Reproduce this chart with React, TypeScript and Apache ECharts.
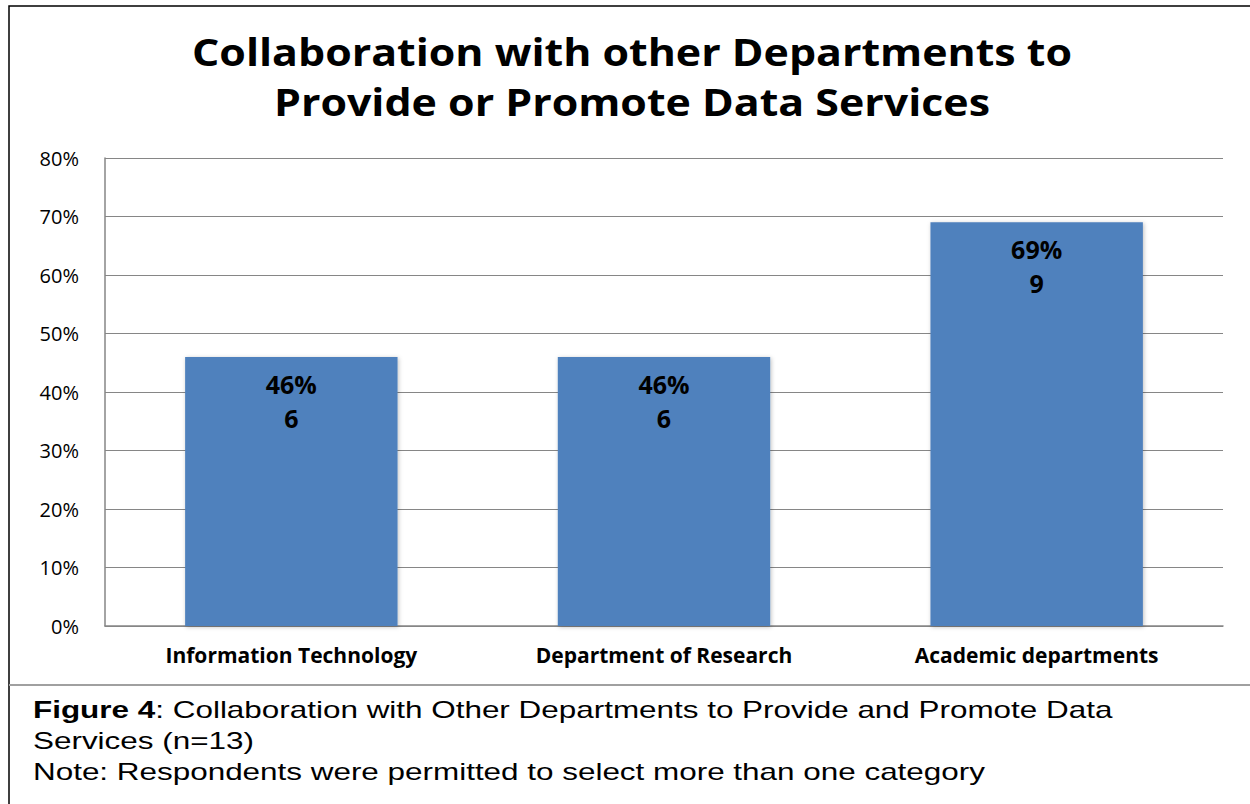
import React, { useEffect, useRef } from "react";
import * as echarts from "echarts";

const categories = ["Information Technology", "Department of Research", "Academic departments"];
const percents = [46, 46, 69];
const counts = [6, 6, 9];
const yTicks = { min: 0, max: 80, interval: 10 };
const titleLines = ["Collaboration with other Departments to", "Provide or Promote Data Services"];

export default function App() {
  const ref = useRef<HTMLDivElement>(null);
  useEffect(() => {
    const chart = echarts.init(ref.current!, null, { renderer: "svg" });
    chart.setOption({
      animation: false,
      backgroundColor: "#ffffff",
      grid: { left: 105, right: 27, top: 158, bottom: 178 },
      xAxis: {
        type: "category",
        data: categories,
        axisTick: { show: false },
        axisLine: { lineStyle: { color: "#868686", width: 1.5 } },
        axisLabel: {
          color: "#000",
          fontFamily: "Open Sans",
          fontWeight: "bold",
          fontSize: 21,
          margin: 18,
        },
      },
      yAxis: {
        type: "value",
        min: yTicks.min,
        max: yTicks.max,
        interval: yTicks.interval,
        axisLine: { show: true, lineStyle: { color: "#868686", width: 1.5 } },
        axisTick: { show: false },
        splitLine: { lineStyle: { color: "#868686", width: 1.2 } },
        axisLabel: {
          formatter: "{value}%",
          color: "#000",
          fontFamily: "Open Sans",
          fontSize: 20,
          margin: 26,
        },
      },
      series: [
        {
          type: "bar",
          data: percents,
          barWidth: "57%",
          itemStyle: {
            color: "#4F81BD",
            shadowColor: "rgba(0,0,0,0.25)",
            shadowBlur: 4,
            shadowOffsetX: 1,
            shadowOffsetY: 1,
          },
          label: {
            show: true,
            position: "insideTop",
            distance: 10,
            formatter: (p: any) => `${p.value}%\n${counts[p.dataIndex]}`,
            color: "#000",
            fontFamily: "Open Sans",
            fontWeight: "bold",
            fontSize: 25,
            lineHeight: 34,
          },
        },
      ],
      graphic: [
        {
          type: "rect",
          shape: { x: 9, y: 6, width: 1300, height: 900 },
          style: { fill: "none", stroke: "#000", lineWidth: 1.5 },
          silent: true,
        },
        {
          type: "line",
          shape: { x1: 9, y1: 685, x2: 1250, y2: 685 },
          style: { stroke: "#a0a0a0", lineWidth: 2 },
          silent: true,
        },
        {
          type: "text",
          x: 632,
          y: 27,
          scaleX: 1.16,
          style: {
            text: titleLines.join("\n"),
            fontFamily: "Open Sans",
            fontWeight: "bold",
            fontSize: 37,
            lineHeight: 50,
            fill: "#000",
            align: "center",
            verticalAlign: "top",
          },
        },
        {
          type: "text",
          x: 33,
          y: 694,
          scaleX: 1.31,
          style: {
            text: "{b|Figure 4}: Collaboration with Other Departments to Provide and Promote Data\nServices (n=13)\nNote: Respondents were permitted to select more than one category",
            fontFamily: "Liberation Sans",
            fontSize: 24,
            lineHeight: 31,
            fill: "#000",
            verticalAlign: "top",
            rich: {
              b: { fontFamily: "Liberation Sans", fontSize: 24, fontWeight: "bold", lineHeight: 31 },
            },
          },
        },
      ],
    });
    return () => chart.dispose();
  }, []);
  return (
    <div
      ref={ref}
      style={{ position: "absolute", left: 0, top: 0, width: 1250, height: 804 }}
    />
  );
}
